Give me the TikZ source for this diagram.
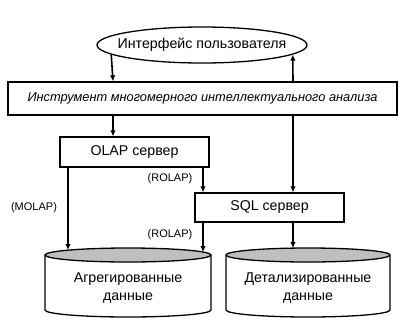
\documentclass[tikz,border=0pt]{standalone}
\usepackage{fontspec}
\setmainfont{Liberation Sans}
\usetikzlibrary{arrows.meta,shapes.geometric}
\begin{document}
\begin{tikzpicture}[x=1pt,y=-1pt,
  box/.style={draw,line width=1.3pt,rectangle,inner sep=0pt},
  conn/.style={line width=1.6pt},
  arr/.style={conn,-{Latex[length=6pt,width=5.5pt]}},
  lbl/.style={font=\fontsize{11}{12}\selectfont,inner sep=0pt},
  main/.style={font=\fontsize{14.2}{18}\selectfont},
  cylfill/.style={fill=black!25}
]
\useasboundingbox (0,0) rectangle (401,322);
% user interface ellipse
\node[draw,line width=1.3pt,ellipse,minimum width=210pt,minimum height=36pt,inner sep=0pt] (ui) at (202,45) {};
\node[main,inner sep=0pt] (uitext) at (ui) {Интерфейс пользователя};
% tool box
\node[box,minimum width=389pt,minimum height=33pt,font=\itshape\fontsize{12.8}{14}\selectfont] (tool) at (202.5,98.5) {Инструмент многомерного интеллектуального анализа};
% servers
\node[box,minimum width=149pt,minimum height=30pt,main] (olap) at (134.5,152) {OLAP сервер};
\node[box,minimum width=149pt,minimum height=29pt,main] (sql) at (269.5,207.5) {SQL сервер};
% cylinders
\draw[line width=1.3pt,fill=white] (45,255) -- (45,310) arc[start angle=180,end angle=360,x radius=83pt,y radius=7pt] -- (211,255);
\draw[line width=1.3pt,cylfill] (128,255) ellipse[x radius=83pt,y radius=7pt];
\draw[line width=1.3pt,fill=white] (226,255) -- (226,310) arc[start angle=180,end angle=360,x radius=82pt,y radius=7pt] -- (390,255);
\draw[line width=1.3pt,cylfill] (308,255) ellipse[x radius=82pt,y radius=7pt];
\node[main,align=center,inner sep=0pt] (agg) at (128,288) {Агрегированные\\данные};
\node[main,align=center,inner sep=0pt] (det) at (308,288) {Детализированные\\данные};
% x positions
\coordinate (xa) at (113,0);
\coordinate (xb) at (293,0);
\coordinate (xc) at (203,0);
\coordinate (xd) at (68,0);
\coordinate (aggtopd) at (68,250);
\coordinate (aggtopc) at (203,252);
\coordinate (dettop) at (293,248);
% connectors
\draw[arr] (ui.186.1) -- (xa |- tool.north);
\draw[arr] (xb |- tool.north) -- (ui.354.4);
\draw[arr] (xa |- tool.south) -- (xa |- olap.north);
\draw[arr] (xb |- tool.south) -- (xb |- sql.north);
\draw[arr] (xc |- olap.south) -- (xc |- sql.north);
\draw[arr] (xd |- olap.south) -- (aggtopd);
\draw[arr] (xc |- sql.south) -- (aggtopc);
\draw[arr] (xb |- sql.south) -- (dettop);
% labels
\node[lbl] (l1) at (170,179) {(ROLAP)};
\node[lbl] (l2) at (34,208) {(MOLAP)};
\node[lbl] (l3) at (170,235) {(ROLAP)};
\end{tikzpicture}
\end{document}
